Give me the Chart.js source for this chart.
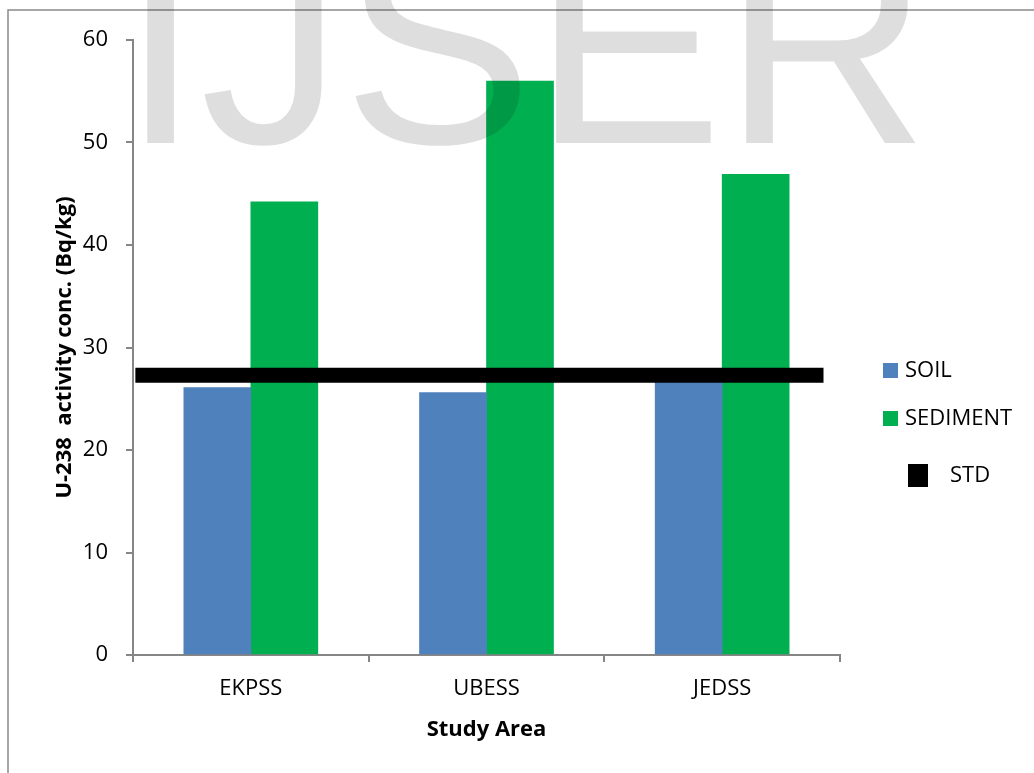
<!DOCTYPE html>
<html>
<head>
    <title>U-238 activity concentration</title>
    <script src="https://cdn.jsdelivr.net/npm/chart.js"></script>
    <style>
        html, body { margin: 0; padding: 0; background: #fff; }
    </style>
</head>
<body>
    <canvas id="myChart" width="1034" height="773"></canvas>
    <script>
        // Data
        const areas = ['EKPSS', 'UBESS', 'JEDSS'];
        const soil = [26.1, 25.6, 27.0];
        const sediment = [44.2, 56.0, 46.9];
        const stdLevel = 27.3;
        const stdSpan = [0.01, 2.93];   // start / end of the STD bar, in category units
        const yTickValues = [0, 10, 20, 30, 40, 50, 60];

        const axisGrey = '#868686';
        const textFont = "'Open Sans', sans-serif";

        Chart.defaults.font.family = textFont;
        Chart.defaults.color = '#000';

        // outer frame of the figure (cut off at right and bottom)
        const framePlugin = {
            id: 'frame',
            beforeDraw(chart) {
                const ctx = chart.ctx;
                ctx.save();
                ctx.strokeStyle = '#8a8a8a';
                ctx.lineWidth = 1.5;
                ctx.strokeRect(8, 10, chart.width + 50, chart.height + 50);
                ctx.restore();
            }
        };

        // legend on the right + IJSER watermark
        const overlayPlugin = {
            id: 'overlay',
            afterDraw(chart) {
                const ctx = chart.ctx;
                const ds = chart.data.datasets;
                ctx.save();
                ctx.textBaseline = 'middle';
                ctx.textAlign = 'left';
                ctx.font = '22px ' + textFont;

                // SOIL / SEDIMENT entries
                const rows = [ds[1], ds[2]];
                rows.forEach((d, i) => {
                    const cy = 370.5 + i * 48;
                    ctx.fillStyle = d.backgroundColor;
                    ctx.fillRect(883, cy - 7.5, 15, 15);
                    ctx.fillStyle = '#000';
                    ctx.fillText(d.label, 905, cy);
                });
                // STD entry
                ctx.fillStyle = ds[0].borderColor;
                ctx.fillRect(908, 464, 20, 23);
                ctx.fillStyle = '#000';
                ctx.fillText(ds[0].label, 950, 475.5);

                // watermark
                ctx.font = "285px 'Liberation Sans', Arial, sans-serif";
                ctx.textBaseline = 'alphabetic';
                ctx.fillStyle = 'rgba(0, 0, 0, 0.13)';
                ctx.fillText('IJSER', 121, 143);
                ctx.restore();
            }
        };

        const data = {
            labels: areas,
            datasets: [
                {
                    type: 'line',
                    label: 'STD',
                    data: stdSpan.map(x => ({ x: x, y: stdLevel })),
                    xAxisID: 'x2',
                    borderColor: '#000',
                    backgroundColor: '#000',
                    borderWidth: 15,
                    borderCapStyle: 'butt',
                    pointRadius: 0,
                    order: 0
                },
                {
                    type: 'bar',
                    label: 'SOIL',
                    data: soil,
                    backgroundColor: '#4F81BD',
                    order: 1
                },
                {
                    type: 'bar',
                    label: 'SEDIMENT',
                    data: sediment,
                    backgroundColor: '#00B050',
                    order: 1
                }
            ]
        };

        const config = {
            type: 'bar',
            data: data,
            plugins: [framePlugin, overlayPlugin],
            options: {
                responsive: false,
                animation: false,
                layout: {
                    padding: { top: 40, right: 194, left: 0, bottom: 0 }
                },
                datasets: {
                    bar: { barThickness: 67 }
                },
                plugins: {
                    legend: { display: false },
                    tooltip: { enabled: false }
                },
                scales: {
                    x: {
                        grid: {
                            drawOnChartArea: false,
                            tickLength: 7,
                            color: axisGrey,
                            lineWidth: 2
                        },
                        border: { color: axisGrey, width: 2 },
                        ticks: { font: { size: 22 }, padding: 14 },
                        title: {
                            display: true,
                            text: 'Study Area',
                            font: { size: 22, weight: 'bold' },
                            padding: { bottom: 30 }
                        },
                        afterFit(scale) { scale.height = 118; }
                    },
                    x2: {
                        type: 'linear',
                        display: false,
                        offset: false,
                        min: 0,
                        max: 3
                    },
                    y: {
                        min: 0,
                        max: 60,
                        afterBuildTicks(scale) {
                            scale.ticks = yTickValues.map(v => ({ value: v }));
                        },
                        grid: {
                            drawOnChartArea: false,
                            tickLength: 7,
                            color: axisGrey,
                            lineWidth: 2
                        },
                        border: { color: axisGrey, width: 2 },
                        ticks: { font: { size: 22 }, padding: 18 },
                        title: {
                            display: true,
                            text: 'U-238  activity conc. (Bq/kg)',
                            font: { size: 22, weight: 'bold' },
                            padding: { top: 52 }
                        },
                        afterFit(scale) { scale.width = 133; }
                    }
                }
            }
        };

        const myChart = new Chart(document.getElementById('myChart'), config);
    </script>
</body>
</html>
